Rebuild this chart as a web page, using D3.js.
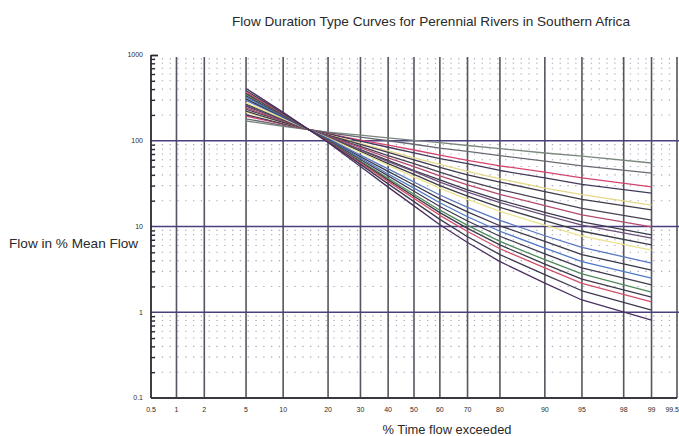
<!DOCTYPE html>
<html>
<head>
<meta charset="utf-8">
<script src="https://cdn.jsdelivr.net/npm/d3@7"></script>
<style>
  html, body { margin: 0; padding: 0; background: #ffffff; }
  svg { display: block; }
  text { font-family: "Liberation Sans", Arial, Helvetica, sans-serif; fill: #2a2a2a; }
</style>
</head>
<body>
<svg id="chart" width="679" height="436"></svg>
<script>
// ---------------- DATA ----------------
const percentExceeded = [5, 10, 20, 30, 40, 50, 60, 70, 80, 90, 95, 99];

const curve1  = [170, 147, 126, 116, 108, 101, 95, 88, 81, 72, 66, 55];
const curve2  = [180, 151, 124, 110, 100, 91, 82, 75, 67, 58, 51, 42];
const curve3  = [194, 156, 121, 102, 89, 78, 68, 59, 51, 43, 37, 29];
const curve4  = [201, 158, 120, 99, 84, 72, 62, 54, 45, 37, 31, 24.5];
const curve5  = [215, 163, 117, 93, 76, 63, 53, 44, 36, 28, 23.5, 17.8];
const curve6  = [221, 164, 116, 91, 73, 60, 49, 40, 33, 25.5, 20.7, 15.6];
const curve7  = [233, 169, 114, 86, 67, 54, 43, 34, 27, 20.4, 16.3, 11.9];
const curve8  = [242, 171, 113, 83, 63, 50, 39, 30.5, 23.7, 17.5, 13.7, 9.9];
const curve9  = [253, 175, 111, 79, 59, 45, 35, 26.7, 20.3, 14.6, 11.3, 8.0];
const curve10 = [258, 176, 111, 78, 57, 44, 33, 25.2, 19.0, 13.6, 10.4, 7.3];
const curve11 = [268, 179, 109, 75, 54, 40.5, 30, 22.6, 16.7, 11.7, 8.8, 6.1];
const curve12 = [276, 181, 108, 73, 52, 38, 28, 20.7, 15.0, 10.4, 7.7, 5.3];
const curve13 = [296, 187, 106, 68, 47, 33, 23.3, 16.7, 11.8, 7.8, 5.7, 3.75];
const curve14 = [308, 190, 104, 65, 44, 30.5, 21, 14.8, 10.2, 6.7, 4.7, 3.1];
const curve15 = [323, 194, 103, 63, 41, 28, 18.9, 13.0, 8.8, 5.6, 3.9, 2.5];
const curve16 = [335, 197, 102, 60.5, 39, 25.8, 17.1, 11.6, 7.7, 4.8, 3.3, 2.08];
const curve17 = [348, 200, 100, 58, 36.6, 23.8, 15.5, 10.3, 6.7, 4.1, 2.8, 1.72];
const curve18 = [359, 202, 99.5, 56.6, 35, 22.5, 14.5, 9.5, 6.1, 3.65, 2.44, 1.5];
const curve19 = [368, 205, 98.6, 55, 33.6, 21.3, 13.5, 8.75, 5.5, 3.3, 2.17, 1.32];
const curve20 = [385, 209, 97, 53, 31.4, 19.5, 12.1, 7.6, 4.7, 2.74, 1.78, 1.06];
const curve21 = [407, 214, 95.5, 50, 28.8, 17.4, 10.5, 6.5, 3.9, 2.19, 1.39, 0.81];

const curves = [curve1, curve2, curve3, curve4, curve5, curve6, curve7, curve8, curve9, curve10,
                curve11, curve12, curve13, curve14, curve15, curve16, curve17, curve18, curve19, curve20, curve21];

const curveColors = ["#7a877c", "#6a6a74", "#d3456e", "#433a5a", "#e4d98a", "#3f3a4c", "#4a4054",
                     "#b44a6e", "#3c3a4e", "#6b4f7a", "#3a3a48", "#ebe38e", "#5a78c0", "#3a3848",
                     "#4f7ac8", "#403c50", "#4f8a5a", "#3c3a4a", "#d0506a", "#3e3a50", "#4a3060"];

const xTickValues = [0.5, 1, 2, 5, 10, 20, 30, 40, 50, 60, 70, 80, 90, 95, 98, 99, 99.5];
const xTickLabels = ["0.5", "1", "2", "5", "10", "20", "30", "40", "50", "60", "70", "80", "90", "95", "98", "99", "99.5"];
const yTickValues = [0.1, 1, 10, 100, 1000];
const yTickLabels = ["0.1", "1", "10", "100", "1000"];
const yMajorLines = [1, 10, 100];

const titleText = "Flow Duration Type Curves for Perennial Rivers in Southern Africa";
const xTitle = "% Time flow exceeded";
const yTitle = "Flow in % Mean Flow";

// ------------- probability transform (inverse normal CDF) -------------
function probit(p) {
  const a = [-3.969683028665376e+01, 2.209460984245205e+02, -2.759285104469687e+02, 1.383577518672690e+02, -3.066479806614716e+01, 2.506628277459239e+00];
  const b = [-5.447609879822406e+01, 1.615858368580409e+02, -1.556989798598866e+02, 6.680131188771972e+01, -1.328068155288572e+01];
  const c = [-7.784894002430293e-03, -3.223964580411365e-01, -2.400758277161838e+00, -2.549732539343734e+00, 4.374664141464968e+00, 2.938163982698783e+00];
  const d = [7.784695709041462e-03, 3.224671290700398e-01, 2.445134137142996e+00, 3.754408661907416e+00];
  const plow = 0.02425, phigh = 1 - plow;
  let q, r;
  if (p < plow) {
    q = Math.sqrt(-2 * Math.log(p));
    return (((((c[0]*q+c[1])*q+c[2])*q+c[3])*q+c[4])*q+c[5]) / ((((d[0]*q+d[1])*q+d[2])*q+d[3])*q+1);
  }
  if (p <= phigh) {
    q = p - 0.5; r = q * q;
    return (((((a[0]*r+a[1])*r+a[2])*r+a[3])*r+a[4])*r+a[5])*q / (((((b[0]*r+b[1])*r+b[2])*r+b[3])*r+b[4])*r+1);
  }
  q = Math.sqrt(-2 * Math.log(1 - p));
  return -(((((c[0]*q+c[1])*q+c[2])*q+c[3])*q+c[4])*q+c[5]) / ((((d[0]*q+d[1])*q+d[2])*q+d[3])*q+1);
}

// ---------------- SCALES ----------------
const plotLeft = 151, plotRight = 677, plotTop = 55, plotBottom = 398;
const zScale = d3.scaleLinear().domain([probit(0.005), probit(0.995)]).range([plotLeft, plotRight]);
const x = p => zScale(probit(p / 100));
const y = d3.scaleLog().domain([0.1, 1000]).range([plotBottom, plotTop]);

const svg = d3.select("#chart");

// minor dotted horizontal lines
const minorVals = [];
[0.1, 1, 10, 100].forEach(dec => { for (let m = 2; m <= 9; m++) minorVals.push(dec * m); });
svg.append("g").selectAll("line").data(minorVals).join("line")
  .attr("x1", plotLeft + 3).attr("x2", 679)
  .attr("y1", d => y(d)).attr("y2", d => y(d))
  .attr("stroke", "#8c8ca2").attr("stroke-width", 1.1)
  .attr("stroke-dasharray", "1.3,6.5").attr("opacity", 0.75);

// vertical grid lines
svg.append("g").selectAll("line").data(xTickValues.slice(1)).join("line")
  .attr("x1", d => x(d)).attr("x2", d => x(d))
  .attr("y1", plotTop + 2).attr("y2", plotBottom)
  .attr("stroke", "#57555f").attr("stroke-width", 1.6);

// horizontal major lines
svg.append("g").selectAll("line").data(yMajorLines).join("line")
  .attr("x1", plotLeft).attr("x2", 679)
  .attr("y1", d => y(d)).attr("y2", d => y(d))
  .attr("stroke", "#4b3f7e").attr("stroke-width", 1.5);

// bottom axis line
svg.append("line").attr("x1", plotLeft).attr("x2", plotRight).attr("y1", y(0.1)).attr("y2", y(0.1))
  .attr("stroke", "#3a3840").attr("stroke-width", 1.8);

// left axis with ticks (inside)
const yAxis = d3.axisRight(y)
  .tickValues(minorVals.concat([1000]))
  .tickSize(4)
  .tickFormat("");
const yAxisG = svg.append("g").attr("transform", `translate(${plotLeft},0)`).call(yAxis);
yAxisG.select(".domain").attr("stroke", "#2a2830").attr("stroke-width", 1.8)
  .attr("d", `M0,${y(1000)}V${y(0.1)}`);
yAxisG.selectAll(".tick line").attr("stroke", "#2a2830").attr("stroke-width", 1.4);
yAxisG.selectAll(".tick").filter(d => d === 1000).select("line").attr("x2", 7).attr("stroke-width", 1.8);

// curves
const line = d3.line()
  .x((d, i) => x(percentExceeded[i]))
  .y(d => y(d));
svg.append("g").selectAll("path").data(curves).join("path")
  .attr("d", d => line(d))
  .attr("fill", "none")
  .attr("stroke", (d, i) => curveColors[i])
  .attr("stroke-width", 1.3)
  .attr("stroke-linejoin", "round");

// y tick labels
svg.append("g").selectAll("text").data(yTickValues).join("text")
  .attr("x", 143).attr("y", d => y(d))
  .attr("dy", "0.35em")
  .attr("text-anchor", "end")
  .attr("font-size", 7)
  .text((d, i) => yTickLabels[i]);

// x tick labels (last one kept inside the frame)
svg.append("g").selectAll("text").data(xTickValues).join("text")
  .attr("x", (d, i) => i === xTickValues.length - 1 ? 679 : x(d)).attr("y", 412)
  .attr("text-anchor", (d, i) => i === xTickValues.length - 1 ? "end" : "middle")
  .attr("font-size", 7)
  .text((d, i) => xTickLabels[i]);

// titles
svg.append("text").attr("x", 431).attr("y", 26).attr("text-anchor", "middle")
  .attr("font-size", 13.6).text(titleText);
svg.append("text").attr("x", 447).attr("y", 434).attr("text-anchor", "middle")
  .attr("font-size", 12.9).text(xTitle);
svg.append("text").attr("x", 9).attr("y", 248).attr("text-anchor", "start")
  .attr("font-size", 13.6).text(yTitle);
</script>
</body>
</html>
